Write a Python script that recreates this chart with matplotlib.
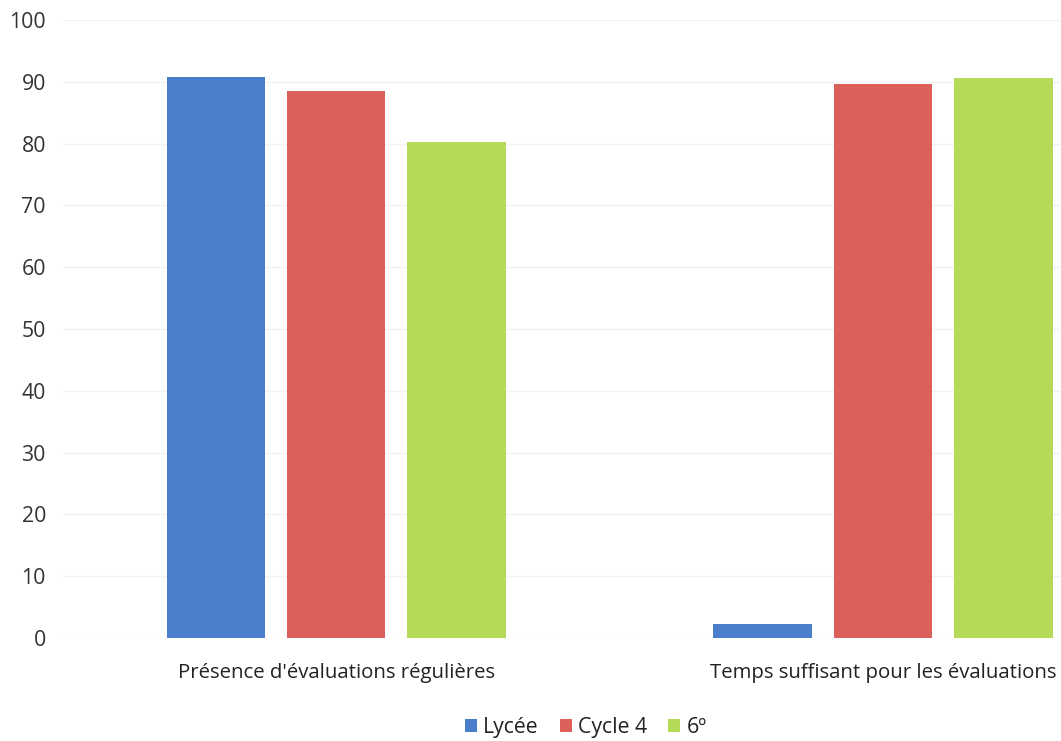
import matplotlib
matplotlib.use("Agg")
import matplotlib.pyplot as plt
import numpy as np

categories = ["Présence d'évaluations régulières", "Temps suffisant pour les évaluations"]
series_names = ["Lycée", "Cycle 4", "6º"]
lycee = [90.7, 2.3]
cycle4 = [88.5, 89.6]
sixieme = [80.3, 90.6]
yticks = [0, 10, 20, 30, 40, 50, 60, 70, 80, 90, 100]
colors = ["#4B7FCC", "#DC605A", "#B5DA57"]

plt.rcParams['font.family'] = ['Open Sans', 'DejaVu Sans']

fig = plt.figure(figsize=(10.61, 7.41), dpi=100)
ax = fig.add_axes([0.059, 0.139, 1.031, 0.834])

x = np.arange(len(categories))
w = 0.18
off = 0.22
for i, (vals, name) in enumerate(zip([lycee, cycle4, sixieme], series_names)):
    ax.bar(x + (i - 1) * off, vals, w, color=colors[i], label=name, zorder=3)

ax.set_xlim(-0.5, 1.5)
ax.set_ylim(0, 100)
ax.set_yticks(yticks)
ax.set_yticklabels([str(t) for t in yticks], fontsize=15.3, color="#333333")
ax.set_xticks(x)
ax.set_xticklabels(categories, fontsize=14.7, color="#222222")
ax.get_xticklabels()[1].set_x(0.995)
ax.tick_params(axis='both', length=0)
ax.tick_params(axis='y', pad=12)
ax.tick_params(axis='x', pad=18)
ax.yaxis.grid(True, color="#f2f2f2", linewidth=1, zorder=0)
for s in ax.spines.values():
    s.set_visible(False)

leg = fig.legend(loc='center', bbox_to_anchor=(0.552, 0.018), ncol=3, frameon=False,
                 fontsize=15.3, handlelength=0.55, handleheight=0.55, handletextpad=0.3,
                 columnspacing=1.0)
for t in leg.get_texts():
    t.set_color("#222222")

fig.savefig("out.png", dpi=100)
